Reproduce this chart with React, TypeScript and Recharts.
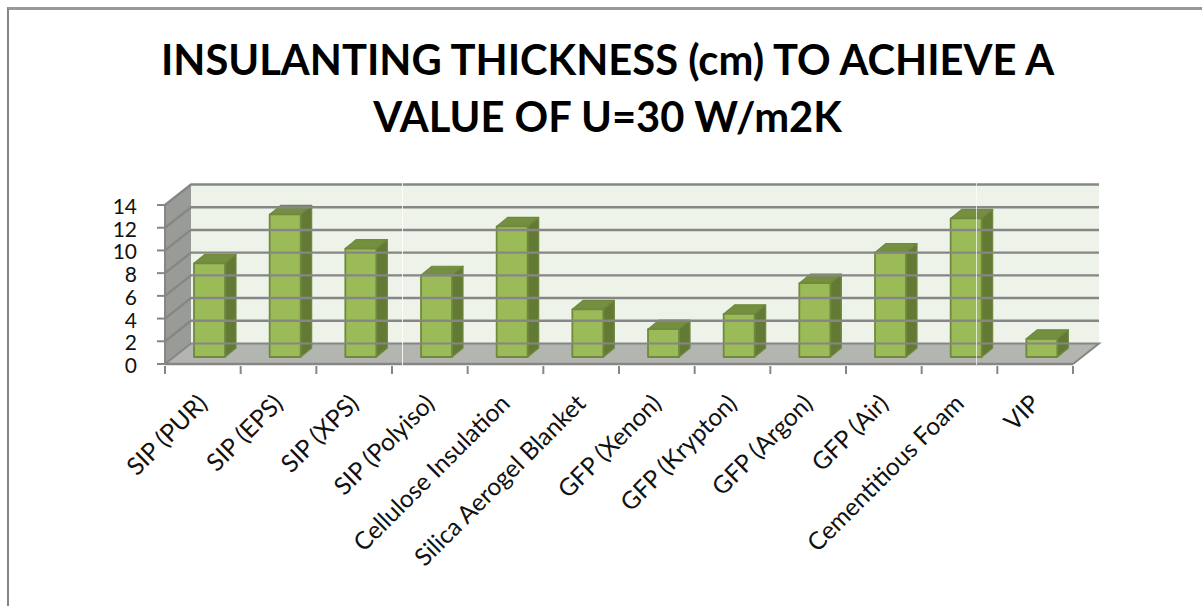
import React from 'react';
import { BarChart, Bar, XAxis, YAxis, ReferenceArea, ReferenceLine } from 'recharts';

const categories = [
  'SIP (PUR)',
  'SIP (EPS)',
  'SIP (XPS)',
  'SIP (Polyiso)',
  'Cellulose Insulation',
  'Silica Aerogel Blanket',
  'GFP (Xenon)',
  'GFP (Krypton)',
  'GFP (Argon)',
  'GFP (Air)',
  'Cementitious Foam',
  'VIP',
];
const thickness = [8.25, 12.55, 9.55, 7.2, 11.5, 4.2, 2.45, 3.8, 6.5, 9.2, 12.2, 1.6];
const yTicks = [0, 2, 4, 6, 8, 10, 12, 14];
const gridValues = [2, 4, 6, 8, 10, 12, 14];

const data = categories.map((name, i) => ({ name, value: thickness[i] }));

const FONT = 'Lato, "Open Sans", sans-serif';
const WALL_DX = 26;
const WALL_DY = 20.5;
const BAR_DX = 11;
const BAR_DY = 9;
const BAR_SHIFT = 7;
const AXIS_GREY = '#868686';
const PLOT_WIDTH = 908;
const SLOT = PLOT_WIDTH / categories.length;

function Walls(props: any) {
  const { x, y, width, height } = props;
  const bottom = y + height;
  const right = x + width;
  return (
    <g>
      <polygon
        points={`${x},${y} ${x + WALL_DX},${y - WALL_DY} ${x + WALL_DX},${bottom - WALL_DY} ${x},${bottom}`}
        fill="#999b96"
      />
      <rect x={x + WALL_DX} y={y - WALL_DY} width={width} height={height} fill="#eef3ea" />
      <polygon
        points={`${x},${bottom} ${x + WALL_DX},${bottom - WALL_DY} ${right + WALL_DX},${bottom - WALL_DY} ${right},${bottom}`}
        fill="#b3b5b0"
      />
    </g>
  );
}

function WallGridLine(props: any) {
  const { x1, x2, y1 } = props;
  const y = y1;
  return (
    <polyline
      points={`${x1},${y} ${x1 + WALL_DX},${y - WALL_DY} ${x2 + WALL_DX},${y - WALL_DY}`}
      fill="none"
      stroke={AXIS_GREY}
      strokeWidth={2.4}
    />
  );
}

function FloorEdges(props: any) {
  const { x1, x2, y1 } = props;
  return (
    <polyline
      points={`${x1},${y1} ${x1 + WALL_DX},${y1 - WALL_DY} ${x2 + WALL_DX},${y1 - WALL_DY} ${x2},${y1}`}
      fill="none"
      stroke={AXIS_GREY}
      strokeWidth={2}
    />
  );
}

function Bar3D(props: any) {
  const { x, y, width, height } = props;
  const fx = x + BAR_SHIFT;
  const fy = y - BAR_SHIFT;
  const fr = fx + width;
  const fb = fy + height;
  return (
    <g strokeLinejoin="round">
      <polygon
        points={`${fx},${fy} ${fx + BAR_DX},${fy - BAR_DY} ${fr + BAR_DX},${fy - BAR_DY} ${fr},${fy}`}
        fill="#748f40"
        stroke="#6f893d"
        strokeWidth={1.2}
      />
      <polygon
        points={`${fr},${fy} ${fr + BAR_DX},${fy - BAR_DY} ${fr + BAR_DX},${fb - BAR_DY} ${fr},${fb}`}
        fill="#637a35"
        stroke="#6f893d"
        strokeWidth={1.2}
      />
      <rect x={fx} y={fy} width={width} height={height} fill="#9bbb59" stroke="#71893f" strokeWidth={1.8} />
    </g>
  );
}

function XTick(props: any) {
  const { x, y, payload, index } = props;
  const yAxisEdge = y - 8;
  const left = x - SLOT / 2;
  const labelX = x + 6;
  const labelY = y + 31;
  return (
    <g>
      <line x1={left} x2={left} y1={yAxisEdge} y2={yAxisEdge + 8} stroke={AXIS_GREY} strokeWidth={2} />
      {index === categories.length - 1 && (
        <line x1={left + SLOT} x2={left + SLOT} y1={yAxisEdge} y2={yAxisEdge + 8} stroke={AXIS_GREY} strokeWidth={2} />
      )}
      <text
        x={labelX}
        y={labelY}
        transform={`rotate(-45 ${labelX} ${labelY})`}
        textAnchor="end"
        fontFamily={FONT}
        fontSize={24.5}
        fill="#111"
      >
        {payload.value}
      </text>
    </g>
  );
}

function YTick(props: any) {
  const { x, y, payload } = props;
  return (
    <text x={x - 18} y={y + 9} textAnchor="end" fontFamily={FONT} fontSize={21} fill="#111">
      {payload.value}
    </text>
  );
}

export default function App() {
  return (
    <div style={{ position: 'absolute', left: 0, top: 0, width: 1202, height: 606, background: '#fff', overflow: 'hidden' }}>
      <div style={{ position: 'absolute', left: 7, top: 7, width: 1195, height: 599, borderLeft: '2px solid #858585', borderTop: '3px solid #989898', boxSizing: 'border-box' }} />
      <div
        style={{
          position: 'absolute',
          left: 0,
          width: 1215,
          top: 31,
          textAlign: 'center',
          fontFamily: FONT,
          fontWeight: 700,
          fontSize: 41.7,
          lineHeight: '57px',
          color: '#000',
          whiteSpace: 'nowrap',
        }}
      >
        INSULANTING THICKNESS (cm) TO ACHIEVE A
        <br />
        VALUE OF U=30 W/m2K
      </div>
      <div style={{ position: 'absolute', left: 0, top: 0 }}>
        <BarChart
          width={1202}
          height={606}
          data={data}
          margin={{ top: 205, right: 129, bottom: 0, left: 0 }}
          barSize={31}
        >
          <ReferenceArea y1={0} y2={14} shape={Walls} ifOverflow="visible" stroke="none" />
          {gridValues.map((v) => (
            <ReferenceLine key={v} y={v} shape={WallGridLine} ifOverflow="visible" />
          ))}
          <ReferenceLine y={0} shape={FloorEdges} ifOverflow="visible" />
          <XAxis
            dataKey="name"
            interval={0}
            height={242}
            tick={XTick}
            tickLine={false}
            tickSize={8}
            scale="band"
            stroke={AXIS_GREY}
            strokeWidth={2.4}
          />
          <YAxis
            width={165}
            domain={[0, 14]}
            ticks={yTicks}
            interval={0}
            tickSize={8}
            stroke={AXIS_GREY}
            strokeWidth={2}
            tickLine={{ stroke: AXIS_GREY, strokeWidth: 2 }}
            tick={YTick}
          />
          <Bar dataKey="value" shape={Bar3D} isAnimationActive={false} />
        </BarChart>
      </div>
      <div style={{ position: 'absolute', left: 402, top: 183, width: 1, height: 182, background: 'rgba(255,255,255,0.85)' }} />
      <div style={{ position: 'absolute', left: 976, top: 183, width: 1, height: 182, background: 'rgba(255,255,255,0.7)' }} />
    </div>
  );
}
